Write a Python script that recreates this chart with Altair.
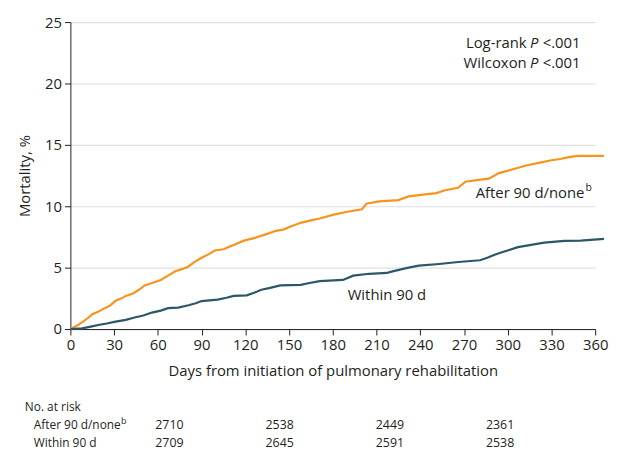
import altair as alt
import pandas as pd

# ---- cumulative mortality (%) ----
after_days = [0, 4, 8, 12, 15, 19, 22, 27, 31, 35, 38, 43, 47, 51, 56, 62, 67, 72, 77, 81,
              85, 90, 95, 99, 105, 109, 112, 119, 126, 135, 141, 146, 152, 158, 165, 171,
              180, 190, 200, 203, 212, 225, 232, 242, 251, 257, 266, 271, 280, 287, 294,
              303, 312, 322, 330, 336, 342, 348, 366]
after_vals = [0, 0.25, 0.54, 0.9, 1.2, 1.4, 1.6, 1.9, 2.3, 2.5, 2.7, 2.9, 3.2, 3.55, 3.75,
              4.0, 4.35, 4.7, 4.9, 5.1, 5.45, 5.8, 6.1, 6.4, 6.5, 6.7, 6.85, 7.2, 7.4, 7.75,
              8.0, 8.1, 8.4, 8.65, 8.85, 9.0, 9.3, 9.55, 9.75, 10.2, 10.4, 10.5, 10.8, 10.95,
              11.07, 11.3, 11.5, 12.0, 12.15, 12.25, 12.7, 13.0, 13.3, 13.55, 13.75, 13.85,
              14.0, 14.1, 14.1]

within_days = [0, 8, 14, 20, 25, 31, 38, 44, 50, 56, 62, 67, 74, 81, 86, 90, 101, 107, 112,
               121, 126, 131, 137, 144, 158, 164, 171, 187, 194, 205, 217, 221, 226, 232,
               239, 253, 266, 281, 286, 291, 296, 300, 307, 316, 325, 339, 350, 366]
within_vals = [0, 0.05, 0.2, 0.35, 0.45, 0.6, 0.75, 0.94, 1.1, 1.34, 1.5, 1.7, 1.75, 1.94,
               2.1, 2.28, 2.4, 2.55, 2.7, 2.74, 2.95, 3.2, 3.35, 3.55, 3.6, 3.75, 3.9, 4.0,
               4.35, 4.5, 4.57, 4.7, 4.84, 5.0, 5.16, 5.3, 5.46, 5.6, 5.8, 6.05, 6.25, 6.4,
               6.67, 6.85, 7.04, 7.18, 7.2, 7.34]

groups = ["After 90 d/none", "Within 90 d"]
x_ticks = list(range(0, 361, 30))
y_ticks = [0, 5, 10, 15, 20, 25]

# number at risk table
risk_after = [2710, 2538, 2449, 2361]
risk_within = [2709, 2645, 2591, 2538]

FONT = "Open Sans"
FS = 15
TXT = "#231f20"
ORANGE = "#f7941d"
TEAL = "#2b5868"

curves = pd.concat([
    pd.DataFrame({"day": after_days, "pct": after_vals, "group": groups[0]}),
    pd.DataFrame({"day": within_days, "pct": within_vals, "group": groups[1]}),
])

xs = alt.Scale(domain=[0, 360], nice=False)
ys = alt.Scale(domain=[0, 25], nice=False)

x_axis = alt.Axis(
    values=x_ticks, title="Days from initiation of pulmonary rehabilitation",
    grid=False, tickSize=6, labelPadding=3, titlePadding=11,
    domainColor=TXT, tickColor=TXT, labelColor=TXT, titleColor=TXT,
    labelFontSize=FS, titleFontSize=FS, titleFontWeight="normal",
    labelFont=FONT, titleFont=FONT, labelFlush=False)
y_axis = alt.Axis(
    values=y_ticks, title="Mortality, %", grid=True, gridColor="#e0e0e0",
    gridWidth=1.2, tickSize=6, labelPadding=3, titlePadding=12,
    domainColor=TXT, tickColor=TXT, labelColor=TXT, titleColor=TXT,
    labelFontSize=FS, titleFontSize=FS, titleFontWeight="normal",
    labelFont=FONT, titleFont=FONT)

X = alt.X("day:Q", scale=xs, axis=x_axis, title="Days from initiation of pulmonary rehabilitation")
Y = alt.Y("pct:Q", scale=ys, axis=y_axis, title="Mortality, %")

lines = alt.Chart(curves).mark_line(
    interpolate="linear", strokeWidth=2.2, clip=False
).encode(
    x=X, y=Y,
    color=alt.Color("group:N", scale=alt.Scale(domain=groups, range=[ORANGE, TEAL]),
                    legend=None),
)

def txt(df, align="left", size=FS, style="normal", dx=0, dy=0):
    return alt.Chart(pd.DataFrame(df)).mark_text(
        align=align, baseline="middle", font=FONT, fontSize=size, fontStyle=style,
        color=TXT, dx=dx, dy=dy, clip=False
    ).encode(x=X, y=Y, text="t:N")

ann = [
    txt({"day": [352.6], "pct": [11.1], "t": ["After 90 d/none"]}, align="right"),
    txt({"day": [352.6], "pct": [11.1], "t": ["b"]}, align="left", size=10.5, dx=1, dy=-5),
    txt({"day": [190.2], "pct": [2.8], "t": ["Within 90 d"]}, align="left"),
    txt({"day": [313.0, 313.0], "pct": [23.3, 21.7], "t": ["Log-rank", "Wilcoxon"]},
        align="right"),
    txt({"day": [315.2, 315.2], "pct": [23.3, 21.7], "t": ["P", "P"]}, align="left",
        style="italic"),
    txt({"day": [324, 324], "pct": [23.3, 21.7], "t": ["<.001", "<.001"]}, align="left"),
]

main = alt.layer(lines, *ann)

# ---- number at risk table ----
tbl = pd.DataFrame({
    "col": [0, 1, 2, 3] * 2,
    "row": [1] * 4 + [2] * 4,
    "n": risk_after + risk_within,
})
col_scale = alt.Scale(domain=[0, 3], range=[100, 434])
row_scale = alt.Scale(domain=[0, 2], range=[388.7, 424.7])

nums = alt.Chart(tbl).mark_text(
    align="center", baseline="middle", font=FONT, fontSize=12.5, color=TXT, clip=False
).encode(
    x=alt.X("col:Q", scale=col_scale, axis=None),
    y=alt.Y("row:Q", scale=row_scale, axis=None),
    text="n:N",
)

lab_df = pd.DataFrame({"row": [0, 1, 2],
                       "t": ["No. at risk", "After 90 d/none", "Within 90 d"],
                       "indent": [0, 1, 1]})
labs0 = alt.Chart(lab_df[lab_df.indent == 0]).mark_text(
    align="left", baseline="middle", font=FONT, fontSize=12, color=TXT, clip=False
).encode(x=alt.value(-46), y=alt.Y("row:Q", scale=row_scale, axis=None), text="t:N")
labs1 = alt.Chart(lab_df[lab_df.indent == 1]).mark_text(
    align="left", baseline="middle", font=FONT, fontSize=12, color=TXT, clip=False
).encode(x=alt.value(-37), y=alt.Y("row:Q", scale=row_scale, axis=None), text="t:N")
sup = alt.Chart(pd.DataFrame({"row": [1], "t": ["b"]})).mark_text(
    align="left", baseline="middle", font=FONT, fontSize=9, color=TXT, clip=False, dy=-4
).encode(x=alt.value(51), y=alt.Y("row:Q", scale=row_scale, axis=None), text="t:N")

table = alt.layer(nums, labs0, labs1, sup)

chart = alt.layer(main, table).resolve_scale(
    x="independent", y="independent"
).properties(
    width=530, height=310,
    padding={"left": 9, "top": 5, "right": 5, "bottom": 5},
).configure_view(stroke=None)

chart.save("out.html", embed_options={"renderer": "svg", "actions": False})
